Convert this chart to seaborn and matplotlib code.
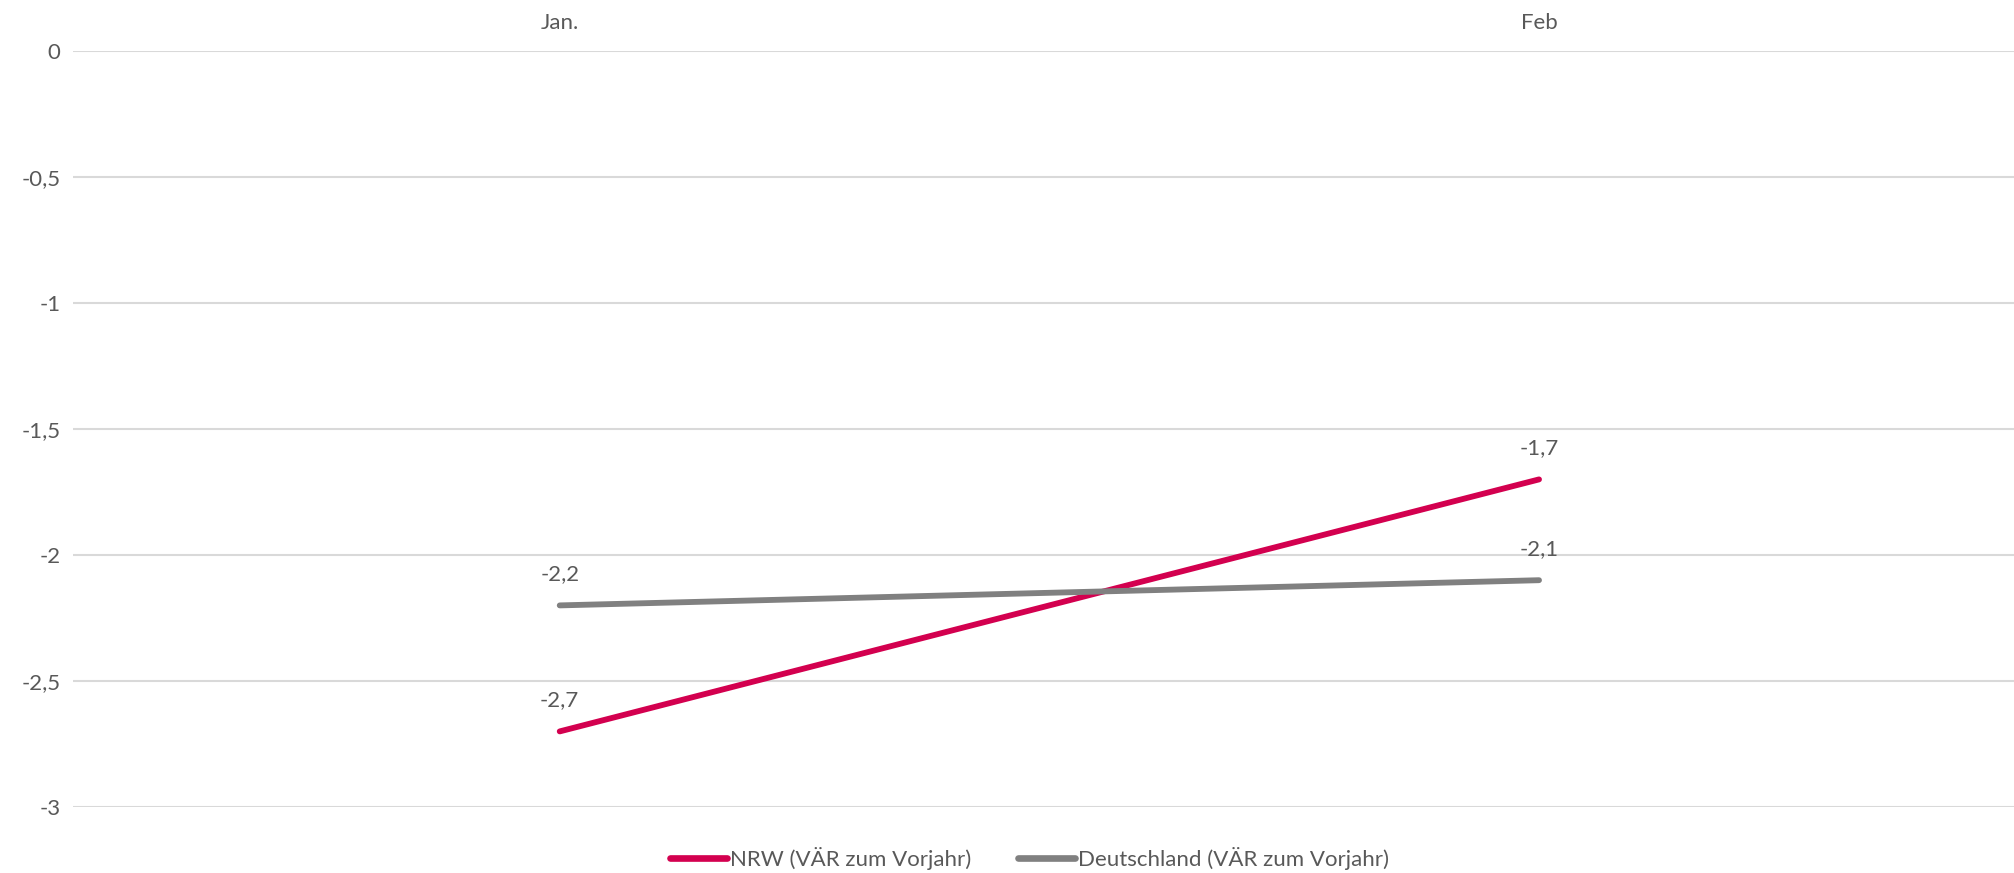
import matplotlib
matplotlib.use("Agg")
import matplotlib.pyplot as plt
import seaborn as sns
import pandas as pd

months = ["Jan.", "Feb"]
nrw = [-2.7, -1.7]
deutschland = [-2.2, -2.1]
series_names = ["NRW (VÄR zum Vorjahr)", "Deutschland (VÄR zum Vorjahr)"]
yticks = [0, -0.5, -1, -1.5, -2, -2.5, -3]
ytick_labels = ["0", "-0,5", "-1", "-1,5", "-2", "-2,5", "-3"]

df = pd.DataFrame({
    "Monat": months * 2,
    "Wert": nrw + deutschland,
    "Reihe": [series_names[0]] * 2 + [series_names[1]] * 2,
})

sns.set_theme(style="white")
plt.rcParams["font.family"] = ["Lato", "DejaVu Sans"]
text_color = "#595959"
colors = {series_names[0]: "#D3004F", series_names[1]: "#808080"}

fig = plt.figure(figsize=(20.14, 8.73), dpi=100)
ax = fig.add_axes([73 / 2014, 1 - 807 / 873, 1 - 73 / 2014, (807 - 51) / 873])

sns.lineplot(data=df, x="Monat", y="Wert", hue="Reihe", palette=colors,
             linewidth=4.2, ax=ax, legend=True, sort=False,
             solid_capstyle="round")

ax.set_ylim(-3, 0)
ax.set_xlim(-0.497, 1.485)
ax.set_yticks(yticks)
ax.set_yticklabels(ytick_labels)
ax.yaxis.grid(True, color="#D9D9D9", linewidth=1.5)
ax.xaxis.grid(False)
ax.set_axisbelow(True)
for s in ax.spines.values():
    s.set_visible(False)
ax.xaxis.tick_top()
ax.tick_params(axis="x", length=0, pad=13, labelsize=16, labelcolor=text_color)
ax.tick_params(axis="y", length=0, pad=9, labelsize=16, labelcolor=text_color)
ax.set_xlabel("")
ax.set_ylabel("")

for vals in (nrw, deutschland):
    for i, v in enumerate(vals):
        ax.annotate(f"{v:.1f}".replace(".", ","), (i, v), xytext=(0, 15),
                    textcoords="offset points", ha="center", va="bottom",
                    fontsize=16, color=text_color)

leg = ax.legend(loc="center", bbox_to_anchor=(0.511, 1 - 858 / 873),
                bbox_transform=fig.transFigure, ncol=2, frameon=False,
                fontsize=16, handlelength=2.6, handletextpad=0.1,
                columnspacing=2.1, labelcolor=text_color)
for line in leg.get_lines():
    line.set_linewidth(4.8)
    line.set_solid_capstyle("round")

fig.savefig("out.png", dpi=100)
